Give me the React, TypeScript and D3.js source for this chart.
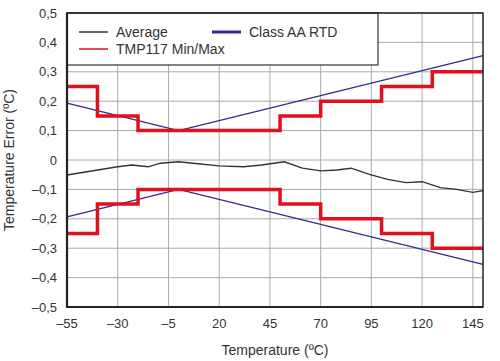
import React, { useEffect, useRef } from "react";
import * as d3 from "d3";

// Average error curve (temperature °C, error °C)
const avgTemps = [-55, -30, -23, -15, -9, 0, 7, 20, 32, 41, 52, 61, 70, 78, 85, 94, 103, 112, 120, 129, 137, 145, 150];
const avgErrors = [-0.051, -0.023, -0.017, -0.023, -0.011, -0.006, -0.011, -0.02, -0.023, -0.017, -0.006, -0.028, -0.037, -0.034, -0.028, -0.049, -0.066, -0.077, -0.074, -0.094, -0.1, -0.11, -0.104];

// TMP117 spec limits, step boundaries and values
const stepEdges = [-55, -40, -20, 50, 70, 100, 125, 150];
const stepLimits = [0.25, 0.15, 0.1, 0.15, 0.2, 0.25, 0.3];

// Class AA RTD tolerance: ±(0.1 + 0.0017|t|)
const rtdTemps = [-55, 0, 150];
const rtdLimits = [0.1935, 0.1, 0.355];

const xTicks = [-55, -30, -5, 20, 45, 70, 95, 120, 145];
const yTicks = [-0.5, -0.4, -0.3, -0.2, -0.1, 0, 0.1, 0.2, 0.3, 0.4, 0.5];

const fmt = (v: number, digits: number) => {
  const s = Math.abs(v) < 1e-9 ? "0" : Math.abs(v).toFixed(digits).replace(".", ",");
  return v < -1e-9 ? "\u2013" + s : s;
};

const App = () => {
  const ref = useRef<SVGSVGElement | null>(null);

  useEffect(() => {
    const svg = d3.select(ref.current);
    svg.selectAll("*").remove();

    const left = 67, right = 483, top = 13, bottom = 307;
    const x = d3.scaleLinear().domain([-55, 150]).range([left, right]);
    const y = d3.scaleLinear().domain([-0.5, 0.5]).range([bottom, top]);
    const font = "'Liberation Sans', Arial, sans-serif";
    const textColor = "#333";

    // grid
    const grid = svg.append("g").attr("stroke", "#aaa").attr("stroke-width", 1);
    xTicks.forEach((t) => {
      grid.append("line").attr("x1", x(t)).attr("x2", x(t)).attr("y1", top).attr("y2", bottom);
    });
    yTicks.forEach((t) => {
      grid.append("line").attr("x1", left).attr("x2", right).attr("y1", y(t)).attr("y2", y(t));
    });

    // RTD tolerance
    const line = d3.line<[number, number]>().x((d) => x(d[0])).y((d) => y(d[1]));
    const rtdUp = rtdTemps.map((t, i) => [t, rtdLimits[i]] as [number, number]);
    const rtdDn = rtdTemps.map((t, i) => [t, -rtdLimits[i]] as [number, number]);
    [rtdUp, rtdDn].forEach((pts) => {
      svg.append("path").attr("d", line(pts)).attr("fill", "none").attr("stroke", "#2b2b8c").attr("stroke-width", 1.3);
    });

    // average
    const avgPts = avgTemps.map((t, i) => [t, avgErrors[i]] as [number, number]);
    svg.append("path").attr("d", line(avgPts)).attr("fill", "none").attr("stroke", "#333").attr("stroke-width", 1.3);

    // TMP117 min/max steps
    const stepPts = (sign: number) => {
      const pts: [number, number][] = [];
      stepLimits.forEach((v, i) => {
        pts.push([stepEdges[i], sign * v]);
        pts.push([stepEdges[i + 1], sign * v]);
      });
      return pts;
    };
    [1, -1].forEach((s) => {
      svg.append("path").attr("d", line(stepPts(s))).attr("fill", "none")
        .attr("stroke", "#e0101e").attr("stroke-width", 3.5).attr("stroke-linejoin", "miter");
    });

    // legend
    const lg = svg.append("g");
    lg.append("rect").attr("x", left).attr("y", top).attr("width", 378 - left).attr("height", 65 - top)
      .attr("fill", "white").attr("stroke", "#333").attr("stroke-width", 1.2);
    const items = [
      { label: "Average", color: "#333", w: 1.5, lx: 79, row: 32 },
      { label: "Class AA RTD", color: "#2b2b8c", w: 3, lx: 212, row: 32 },
      { label: "TMP117 Min/Max", color: "#e0101e", w: 1.5, lx: 79, row: 49 },
    ];
    items.forEach((it) => {
      lg.append("line").attr("x1", it.lx).attr("x2", it.lx + 29).attr("y1", it.row).attr("y2", it.row)
        .attr("stroke", it.color).attr("stroke-width", it.w);
      lg.append("text").attr("x", it.lx + 37).attr("y", it.row + 5).attr("font-family", font)
        .attr("font-size", 14).attr("fill", textColor).text(it.label);
    });

    // frame
    svg.append("rect").attr("x", left).attr("y", top).attr("width", right - left).attr("height", bottom - top)
      .attr("fill", "none").attr("stroke", "#222").attr("stroke-width", 1.5);
    svg.append("path").attr("d", `M${left},${top}V${bottom}H${right}`).attr("fill", "none")
      .attr("stroke", "#222").attr("stroke-width", 2.2);

    // tick labels
    xTicks.forEach((t) => {
      svg.append("text").attr("x", x(t)).attr("y", 328).attr("text-anchor", "middle")
        .attr("font-family", font).attr("font-size", 13).attr("fill", textColor).text(fmt(t, 0));
    });
    yTicks.forEach((t) => {
      svg.append("text").attr("x", 57).attr("y", y(t) + 4.5).attr("text-anchor", "end")
        .attr("font-family", font).attr("font-size", 13).attr("fill", textColor).text(fmt(t, 1));
    });

    // axis titles
    svg.append("text").attr("x", (left + right) / 2).attr("y", 355).attr("text-anchor", "middle")
      .attr("font-family", font).attr("font-size", 14).attr("fill", textColor).text("Temperature (ºC)");
    svg.append("text").attr("transform", `translate(14,${(top + bottom) / 2}) rotate(-90)`)
      .attr("text-anchor", "middle").attr("font-family", font).attr("font-size", 14)
      .attr("fill", textColor).text("Temperature Error (ºC)");
  }, []);

  return (
    <svg ref={ref} width={500} height={361}
      style={{ position: "absolute", left: 0, top: 0, background: "white" }} />
  );
};

export default App;
